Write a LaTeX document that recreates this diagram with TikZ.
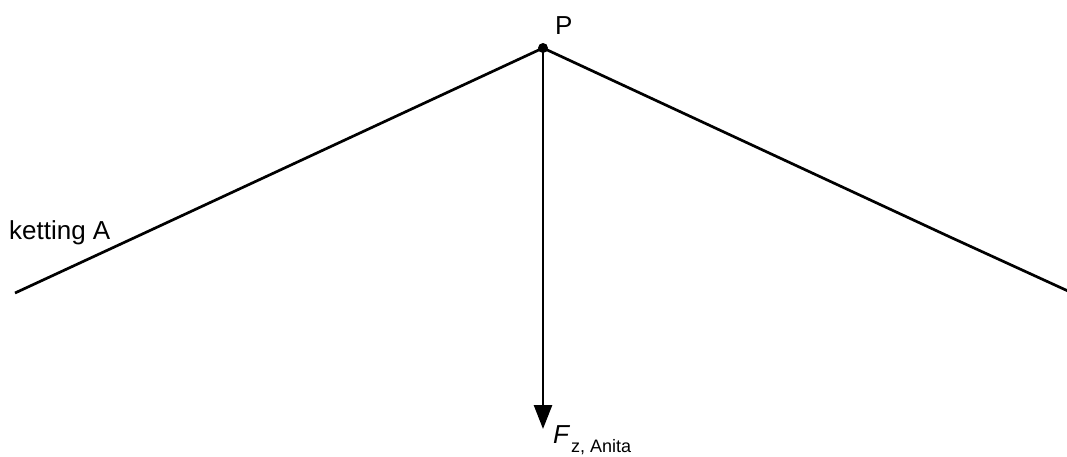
\documentclass[tikz,border=0pt]{standalone}
\usepackage{fontspec}
\setmainfont{Liberation Sans}
\usetikzlibrary{arrows.meta}
\begin{document}
\begin{tikzpicture}[x=1pt,y=-1pt,
  chain/.style={line width=2.7pt,line join=round},
  force/.style={line width=2.7pt,-{Triangle[length=24pt,width=18pt]}},
  lbl/.style={inner sep=0pt,font=\fontsize{26}{29}\selectfont}]
\useasboundingbox (0,0) rectangle (1067,456);
\coordinate (P) at (543,48);
\coordinate (L0) at (15,293);
\coordinate (L1) at (137,236.5);
\coordinate (R1) at (950,237);
\coordinate (R0) at (1068,291);
\coordinate (T) at (543,429);
\draw[chain] (L0) -- (L1) -- (P) -- (R1) -- (R0);
\draw[force] (P) -- (T);
\fill (P) circle (5pt);
\node[lbl,anchor=base west] (pl) at (555,34) {P};
\node[lbl,anchor=base west] (kl) at (9,239) {ketting A};
\node[inner sep=0pt,anchor=base west,font=\fontsize{26}{29}\selectfont\itshape] (fl) at (553,443) {F};
\node[inner sep=0pt,anchor=base west,font=\fontsize{18}{21}\selectfont] (fs) at (571,452) {z, Anita};
\end{tikzpicture}
\end{document}
